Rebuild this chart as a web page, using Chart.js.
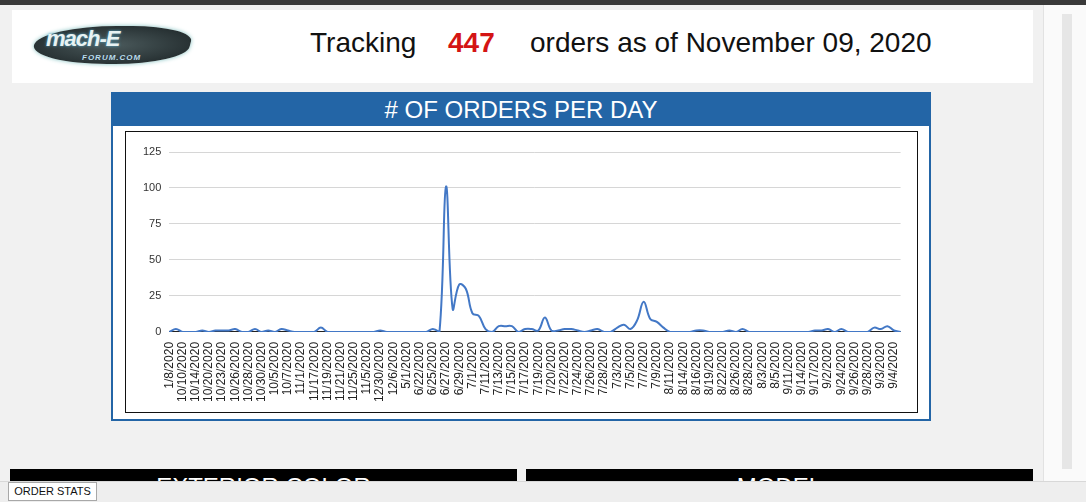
<!DOCTYPE html>
<html>
<head>
<meta charset="utf-8">
<script src="https://cdn.jsdelivr.net/npm/chart.js@4/dist/chart.umd.min.js"></script>
<style>
  body { margin: 0; width: 1086px; height: 502px; overflow: hidden; background: #f1f1f1; font-family: 'Liberation Sans', Arial, sans-serif; position: relative; }
  .abs { position: absolute; }
  #topbar { left: 0; top: 0; width: 1086px; height: 5px; background: #3a3a3a; }
  #rightstrip { left: 1043px; top: 5px; width: 43px; height: 476px; background: #fafafa; border-left: 1px solid #e2e2e2; }
  #thumb { left: 1062px; top: 14px; width: 10px; height: 455px; background: #e6e6e6; }
  #header { left: 12px; top: 10px; width: 1021px; height: 73px; background: #fff; }
  #logo { left: 30px; top: 24px; width: 164px; height: 44px; }
  .htxt { top: 26px; font-size: 28px; line-height: 34px; color: #111; white-space: nowrap; }
  #card { left: 111px; top: 92px; width: 816px; height: 325px; background: #fff; border: 2px solid #2365a6; }
  #cardhead { left: 0; top: 0; width: 816px; height: 32px; background: #2365a6; color: #fff; font-size: 24px; line-height: 32px; text-align: center; }
  #inner { left: 12px; top: 37px; width: 791px; height: 280px; border: 1px solid #111; }
  .bar { top: 469px; height: 13px; background: #000; overflow: hidden; color: #fff; font-size: 24px; text-align: center; line-height: 36px; }
  #bottom { left: 0; top: 481px; width: 1086px; height: 21px; background: #eeeeee; border-top: 1px solid #d8d8d8; }
  #btn { left: 8px; top: 482px; width: 87px; height: 17px; background: #fff; border: 1px solid #a8a8a8; font-size: 11px; line-height: 17px; text-align: center; color: #111; }
</style>
</head>
<body>
<div id="topbar" class="abs"></div>
<div id="rightstrip" class="abs"></div>
<div id="thumb" class="abs"></div>
<div id="header" class="abs"></div>
<div id="logo" class="abs">
  <div class="abs" style="left:4px;top:2px;width:156px;height:38px;border-radius:50% 40% 45% 50%;background:radial-gradient(#4b5a5c,#1a2224);transform:skewX(-15deg);box-shadow:0 0 4px #7fbfbf;"></div>
  <div class="abs" style="left:16px;top:2px;font-size:22px;font-style:italic;font-weight:bold;color:#e8f2f2;letter-spacing:-1px;text-shadow:0 0 3px #5ac;">mach-E</div>
  <div class="abs" style="left:52px;top:29px;font-size:8px;font-style:italic;font-weight:bold;color:#bde;letter-spacing:1px;">FORUM.COM</div>
</div>
<div class="abs htxt" style="left:310px;">Tracking</div>
<div class="abs htxt" style="left:448px;color:#d41414;font-weight:bold;">447</div>
<div class="abs htxt" style="left:530px;">orders as of November 09, 2020</div>

<div id="card" class="abs">
  <div id="cardhead" class="abs"># OF ORDERS PER DAY</div>
  <div id="inner" class="abs"><canvas id="ordersChart"></canvas></div>
</div>

<div class="abs bar" style="left:10px;width:507px;">EXTERIOR COLOR</div>
<div class="abs bar" style="left:526px;width:507px;">MODEL</div>
<div id="bottom" class="abs"></div>
<div id="btn" class="abs">ORDER STATS</div>

<script>
// order dates as they come out of the sheet (sorted as text)
const orderDates = [
  '1/8/2020', '10/1/2020', '10/10/2020', '10/12/2020', '10/14/2020', '10/19/2020', '10/20/2020', '10/21/2020',
  '10/23/2020', '10/24/2020', '10/26/2020', '10/27/2020', '10/28/2020', '10/29/2020', '10/30/2020', '10/31/2020',
  '10/5/2020', '10/6/2020', '10/7/2020', '10/8/2020', '11/1/2020', '11/16/2020', '11/17/2020', '11/18/2020',
  '11/19/2020', '11/2/2020', '11/21/2020', '11/23/2020', '11/25/2020', '11/3/2020', '11/5/2020', '11/6/2020',
  '12/30/2020', '12/4/2020', '12/6/2020', '4/28/2020', '5/1/2020', '6/18/2020', '6/22/2020', '6/24/2020',
  '6/25/2020', '6/26/2020', '6/27/2020', '6/28/2020', '6/29/2020', '6/30/2020', '7/1/2020', '7/10/2020',
  '7/11/2020', '7/12/2020', '7/13/2020', '7/14/2020', '7/15/2020', '7/16/2020', '7/17/2020', '7/18/2020',
  '7/19/2020', '7/2/2020', '7/20/2020', '7/21/2020', '7/22/2020', '7/23/2020', '7/24/2020', '7/25/2020',
  '7/26/2020', '7/27/2020', '7/28/2020', '7/29/2020', '7/3/2020', '7/30/2020', '7/5/2020', '7/6/2020',
  '7/7/2020', '7/8/2020', '7/9/2020', '8/10/2020', '8/11/2020', '8/13/2020', '8/14/2020', '8/15/2020',
  '8/16/2020', '8/18/2020', '8/19/2020', '8/20/2020', '8/22/2020', '8/25/2020', '8/26/2020', '8/27/2020',
  '8/28/2020', '8/29/2020', '8/3/2020', '8/4/2020', '8/5/2020', '9/10/2020', '9/11/2020', '9/13/2020',
  '9/14/2020', '9/16/2020', '9/17/2020', '9/18/2020', '9/2/2020', '9/21/2020', '9/24/2020', '9/25/2020',
  '9/26/2020', '9/27/2020', '9/28/2020', '9/29/2020', '9/3/2020', '9/30/2020', '9/4/2020', '9/8/2020'
];

// orders placed on each date
const ordersPerDay = [
  0, 2, 0, 0, 0, 1, 0, 1,
  1, 1, 2, 0, 0, 2, 0, 1,
  0, 2, 1, 0, 0, 0, 0, 3,
  0, 0, 0, 0, 0, 0, 0, 0,
  1, 0, 0, 0, 0, 0, 0, 0,
  2, 0, 101, 16, 33, 30, 13, 11,
  2, 0, 4, 4, 4, 0, 2, 2,
  1, 10, 1, 1, 2, 2, 1, 0,
  1, 2, 0, 0, 3, 5, 2, 8,
  21, 9, 7, 3, 0, 0, 0, 0,
  1, 1, 0, 0, 0, 1, 0, 2,
  0, 0, 0, 0, 0, 0, 0, 0,
  0, 0, 1, 1, 2, 0, 2, 0,
  0, 0, 0, 3, 2, 4, 1, 0
];

const yTicks = [0, 25, 50, 75, 100, 125];

const ctx = document.getElementById('ordersChart').getContext('2d');
const ordersChart = new Chart(ctx, {
    type: 'line',
    data: {
        labels: orderDates,
        datasets: [{
            label: 'Orders',
            data: ordersPerDay,
            borderColor: '#4378c6',
            borderWidth: 2,
            pointRadius: 0,
            tension: 0.4,
            fill: false
        }]
    },
    options: {
        responsive: true,
        maintainAspectRatio: false,
        animation: false,
        layout: { padding: { left: 9, right: 0, top: 20, bottom: 8 } },
        plugins: {
            legend: { display: false },
            tooltip: { enabled: false }
        },
        scales: {
            x: {
                grid: { display: false },
                border: { display: false },
                ticks: {
                    autoSkip: false,
                    maxRotation: 90,
                    minRotation: 90,
                    padding: 2,
                    color: '#222',
                    font: { family: "'Liberation Sans', Arial, sans-serif", size: 12 },
                    // only every other date fits under the axis
                    callback: (v, i) => (i % 2 ? '' : orderDates[i])
                }
            },
            y: {
                min: 0,
                max: 125,
                afterBuildTicks: axis => { axis.ticks = yTicks.map(v => ({ value: v })); },
                border: { display: false },
                grid: {
                    drawTicks: false,
                    lineWidth: 1,
                    color: c => (c.tick && c.tick.value === 0 ? '#222' : '#d6d6d6')
                },
                ticks: {
                    padding: 8,
                    color: '#333',
                    font: { family: "'Liberation Sans', Arial, sans-serif", size: 11 }
                }
            }
        }
    }
});
</script>
</body>
</html>
